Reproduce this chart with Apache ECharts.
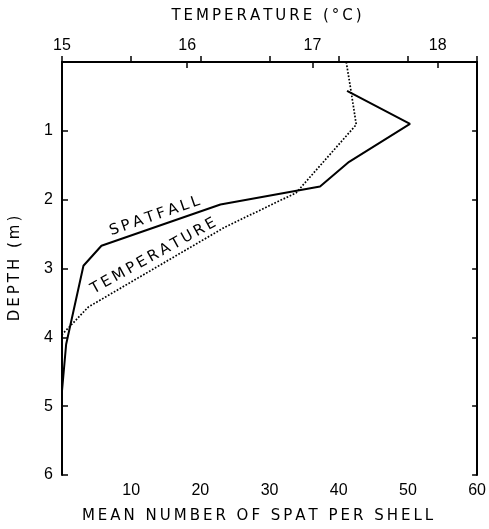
<!DOCTYPE html>
<html>
<head>
<meta charset="utf-8">
<script src="https://cdn.jsdelivr.net/npm/echarts@6/dist/echarts.min.js"></script>
<style>
  html, body { margin: 0; padding: 0; background: #fff; }
  #chart { width: 489px; height: 529px; }
</style>
</head>
<body>
<div id="chart"></div>
<script>
// Mean spatfall per shell by depth (solid line, bottom axis)
const spatDepth = [0.42, 0.90, 1.45, 1.81, 2.07, 2.67, 2.96, 4.10, 4.78];
const spatMean  = [41.2, 50.3, 41.5, 37.3, 22.9, 5.7, 3.1, 0.6, 0.0];

// Water temperature by depth (dotted line, top axis)
const tempDepth = [0.00, 0.33, 0.91, 1.90, 2.40, 3.56, 3.96];
const tempC     = [17.27, 17.30, 17.35, 16.87, 16.30, 15.21, 15.00];

// Axis ranges
const spatRange = [0, 60];
const tempRange = [15, 18.315];
const depthRange = [0, 6];

const FONT = 'DejaVu Sans';
const INK = '#000';

// Loose letter spacing, as in hand-lettered labels
function spread(s) { return s.split('').join('\u2009'); }

const tickStyle = { show: true, inside: true, length: 6, lineStyle: { color: INK, width: 1.5 } };
const lineStyle = { show: true, lineStyle: { color: INK, width: 2 } };

const chart = echarts.init(document.getElementById('chart'));

chart.setOption({
  backgroundColor: '#fff',
  animation: false,
  grid: { left: 57, right: 11, top: 62, bottom: 49 },
  xAxis: [
    {
      type: 'value', position: 'bottom',
      min: spatRange[0], max: spatRange[1], interval: 10,
      name: spread('MEAN NUMBER OF SPAT PER SHELL'),
      nameLocation: 'middle', nameGap: 34,
      nameTextStyle: { fontFamily: FONT, fontSize: 15, color: INK, padding: [0, 24, 0, 0] },
      axisLine: lineStyle, axisTick: tickStyle, splitLine: { show: false },
      axisLabel: {
        margin: 8, fontFamily: 'Liberation Sans', fontSize: 16, color: INK,
        formatter: v => (v === 0 ? '' : String(v))
      }
    },
    {
      type: 'value', position: 'top',
      min: tempRange[0], max: tempRange[1], interval: 1,
      name: spread('TEMPERATURE (°C)'),
      nameLocation: 'middle', nameGap: 38,
      nameTextStyle: { fontFamily: FONT, fontSize: 15, color: INK, padding: [0, 6, 0, 0] },
      axisLine: lineStyle, axisTick: tickStyle, splitLine: { show: false },
      axisLabel: {
        margin: 8, fontFamily: 'Liberation Sans', fontSize: 16, color: INK,
        formatter: v => (Number.isInteger(v) ? String(v) : '')
      }
    }
  ],
  yAxis: [
    {
      type: 'value', position: 'left', inverse: true,
      min: depthRange[0], max: depthRange[1], interval: 1,
      name: spread('DEPTH (m)'),
      nameLocation: 'middle', nameGap: 39, nameRotate: 90,
      nameTextStyle: { fontFamily: FONT, fontSize: 15, color: INK },
      axisLine: lineStyle, axisTick: tickStyle, splitLine: { show: false },
      axisLabel: {
        margin: 9, fontFamily: 'Liberation Sans', fontSize: 16, color: INK,
        formatter: v => (v === 0 ? '' : String(v))
      }
    },
    {
      type: 'value', position: 'right', inverse: true,
      min: depthRange[0], max: depthRange[1], interval: 1,
      axisLine: lineStyle, axisTick: Object.assign({}, tickStyle, { length: 5 }),
      splitLine: { show: false }, axisLabel: { show: false }
    }
  ],
  series: [
    {
      name: 'SPATFALL', type: 'line', xAxisIndex: 0, yAxisIndex: 0,
      data: spatMean.map((v, i) => [v, spatDepth[i]]),
      symbol: 'none', lineStyle: { color: INK, width: 2 }
    },
    {
      name: 'TEMPERATURE', type: 'line', xAxisIndex: 1, yAxisIndex: 0,
      data: tempC.map((v, i) => [v, tempDepth[i]]),
      symbol: 'none', lineStyle: { color: INK, width: 1.7, type: 'dotted' }
    }
  ]
});

// Line labels set along each curve, anchored in data coordinates
const spatAt = chart.convertToPixel({ xAxisIndex: 0, yAxisIndex: 0 }, [13.4, 2.24]);
const tempAt = chart.convertToPixel({ xAxisIndex: 1, yAxisIndex: 0 }, [15.73, 2.82]);

function curveLabel(text, pos, deg) {
  return {
    type: 'text', x: pos[0], y: pos[1], rotation: deg * Math.PI / 180,
    style: {
      text: spread(text), fontFamily: FONT, fontSize: 15, fill: INK,
      align: 'center', verticalAlign: 'middle'
    },
    z: 10
  };
}

chart.setOption({
  graphic: [
    curveLabel('SPATFALL', spatAt, 19),
    curveLabel('TEMPERATURE', tempAt, 29)
  ]
});
</script>
</body>
</html>
